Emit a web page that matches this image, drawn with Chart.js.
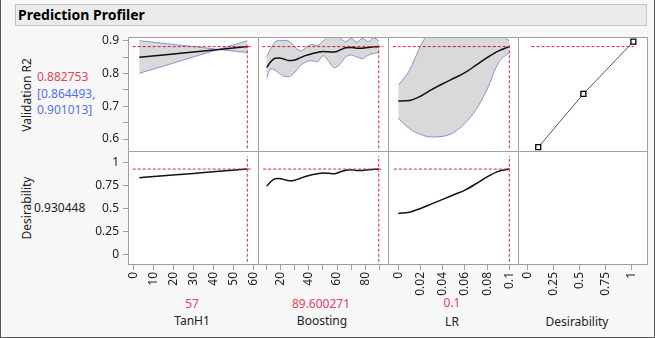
<!DOCTYPE html>
<html><head><meta charset="utf-8">
<script src="https://cdn.jsdelivr.net/npm/chart.js@4.4.0/dist/chart.umd.min.js"></script>
<style>
html,body{margin:0;padding:0;}
body{width:655px;height:338px;position:relative;background:#f7f7f7;overflow:hidden;font-family:'Noto Sans',sans-serif;font-size:12px;color:#222;}
#frame{position:absolute;left:0;top:0;width:653px;height:337px;border-left:1px solid #555;border-right:1px solid #555;border-bottom:1px solid #555;}
#title{position:absolute;left:15px;top:4px;width:628px;height:20px;background:#ebebeb;border:1px solid #c4c4c4;font-weight:bold;font-size:14px;line-height:20px;padding-left:2px;color:#000;}
.c{position:absolute;white-space:nowrap;line-height:14px;transform:translate(-50%,-50%);}
.l{position:absolute;white-space:nowrap;line-height:14px;transform:translate(0,-50%);}
.r{position:absolute;white-space:nowrap;line-height:14px;transform:translate(-50%,-50%) rotate(-90deg);}
.red{color:#e8405c;}
.blue{color:#5470f0;}
canvas{position:absolute;}
</style></head><body>
<div id="frame"></div>
<div id="title">Prediction Profiler</div>
<div class="r" style="left:27px;top:95px;">Validation R2</div>
<div class="l red" style="left:37px;top:77px;">0.882753</div>
<div class="l blue" style="left:37px;top:94px;">[0.864493,</div>
<div class="l blue" style="left:37px;top:110px;">0.901013]</div>
<div class="r" style="left:27px;top:208px;">Desirability</div>
<div class="l" style="left:34px;top:208px;">0.930448</div>
<div class="c red" style="left:192px;top:304px;">57</div>
<div class="c" style="left:192px;top:321px;">TanH1</div>
<div class="c red" style="left:321px;top:304px;">89.600271</div>
<div class="c" style="left:322px;top:321px;">Boosting</div>
<div class="c red" style="left:452px;top:303px;">0.1</div>
<div class="c" style="left:452px;top:322px;">LR</div>
<div class="c" style="left:577px;top:322px;">Desirability</div>
<script>
// ---------- data ----------
const predictedR2 = 0.882753;
const currentDesirability = 0.930448;

const curTanH1 = 57;
const curBoosting = 89.600271;
const curLR = 0.1;

const tanX      = [3, 15, 30, 43, 57];
const tanPred   = [0.850, 0.857, 0.866, 0.874, 0.8828];
const tanUpper  = [0.901, 0.893, 0.883, 0.874, 0.8645];
const tanLower  = [0.801, 0.823, 0.851, 0.875, 0.901];
const tanDes    = [0.836, 0.857, 0.883, 0.906, 0.9304];

const boostX     = [10, 13, 16, 19, 22, 26, 30, 34, 38, 42, 46, 50, 54, 58, 62, 66, 70, 74, 78, 82, 86, 89.6];
const boostPred  = [0.819, 0.837, 0.847, 0.848, 0.845, 0.840, 0.842, 0.849, 0.856, 0.861, 0.865, 0.868, 0.867, 0.866, 0.872, 0.879, 0.880, 0.878, 0.878, 0.880, 0.882, 0.8828];
const boostUpper = [0.852, 0.878, 0.897, 0.902, 0.902, 0.899, 0.882, 0.870, 0.880, 0.890, 0.886, 0.900, 0.915, 0.918, 0.910, 0.898, 0.908, 0.896, 0.908, 0.898, 0.910, 0.901];
const boostLower = [0.786, 0.815, 0.811, 0.800, 0.792, 0.791, 0.805, 0.825, 0.836, 0.840, 0.836, 0.855, 0.838, 0.818, 0.828, 0.850, 0.857, 0.851, 0.846, 0.856, 0.862, 0.8645];
const boostDes   = [0.742, 0.795, 0.825, 0.828, 0.818, 0.803, 0.809, 0.830, 0.853, 0.868, 0.880, 0.888, 0.884, 0.880, 0.898, 0.918, 0.922, 0.916, 0.916, 0.922, 0.928, 0.9304];

const lrX     = [0, 0.01, 0.02, 0.03, 0.04, 0.05, 0.06, 0.07, 0.08, 0.09, 0.1];
const lrPred  = [0.716, 0.718, 0.731, 0.751, 0.769, 0.786, 0.803, 0.826, 0.849, 0.869, 0.8828];
const lrUpper = [0.765, 0.810, 0.885, 0.940, 0.980, 1.000, 1.000, 0.990, 0.960, 0.925, 0.901];
const lrLower = [0.663, 0.632, 0.614, 0.606, 0.608, 0.620, 0.648, 0.690, 0.752, 0.832, 0.8645];
const lrDes   = [0.446, 0.460, 0.500, 0.550, 0.600, 0.650, 0.700, 0.770, 0.845, 0.905, 0.9304];

const desFnX = [0.105, 0.537, 1.016];
const desFnY = [0.575, 0.738, 0.898];

const r2Ticks = [0.6, 0.65, 0.7, 0.75, 0.8, 0.85, 0.9];
const r2Labelled = ['0.6', '0.7', '0.8', '0.9'];
const dTicks = [0, 0.25, 0.5, 0.75, 1];
const tanTicks = [0, 10, 20, 30, 40, 50, 60];
const boostTicks = [10, 20, 30, 40, 50, 60, 70, 80, 90];
const boostLabelled = [20, 40, 60, 80];
const lrTicks = [0, 0.02, 0.04, 0.06, 0.08, 0.1];
const desAxisTicks = [0, 0.25, 0.5, 0.75, 1];

// ---------- helpers ----------
const RED = '#e0223c', BLUE = '#8aa4ee', FILL = '#d9d9d9', GRID = '#a0a0a0';
Chart.defaults.font.family = "'Noto Sans', sans-serif";
Chart.defaults.font.size = 12;
Chart.defaults.color = '#222';

const framePlugin = {
  id: 'panelFrame',
  beforeDraw(chart, args, opts) {
    if (!opts.on) return;
    const a = chart.chartArea, ctx = chart.ctx;
    ctx.save(); ctx.fillStyle = '#fff';
    ctx.fillRect(a.left, a.top, a.right - a.left, a.bottom - a.top);
    ctx.restore();
  },
  afterDatasetsDraw(chart, args, opts) {
    // confidence band: area between the library-built upper and lower line elements,
    // multiplied under the already drawn curves
    if (opts.band == null) return;
    const up = chart.getDatasetMeta(opts.band[0]).dataset;
    const lo = chart.getDatasetMeta(opts.band[1]).dataset;
    if (!up || !lo || !up.segments.length || !lo.segments.length) return;
    const a = chart.chartArea, ctx = chart.ctx;
    ctx.save();
    ctx.beginPath(); ctx.rect(a.left + 1, a.top + 1, a.right - a.left - 1, a.bottom - a.top - 1); ctx.clip();
    ctx.globalCompositeOperation = 'multiply';
    ctx.beginPath();
    up.pathSegment(ctx, up.segments[0], {move: true});
    lo.pathSegment(ctx, lo.segments[0], {move: false, reverse: true});
    ctx.closePath();
    ctx.fillStyle = FILL;
    ctx.fill('nonzero');
    ctx.restore();
  },
  afterDraw(chart, args, opts) {
    if (!opts.on) return;
    const a = chart.chartArea, ctx = chart.ctx;
    ctx.save(); ctx.strokeStyle = GRID; ctx.lineWidth = 1;
    ctx.beginPath();
    ctx.moveTo(a.left + 0.5, a.bottom); ctx.lineTo(a.left + 0.5, a.top + 0.5); ctx.lineTo(a.right, a.top + 0.5);
    if (opts.right) { ctx.moveTo(a.right - 0.5, a.top); ctx.lineTo(a.right - 0.5, a.bottom); }
    if (opts.bottom) { ctx.moveTo(a.left, a.bottom - 0.5); ctx.lineTo(a.right, a.bottom - 0.5); }
    ctx.stroke(); ctx.restore();
  }
};

function pts(xs, ys) { return xs.map((x, i) => ({x: x, y: ys[i]})); }
function line(data, color, width) {
  return {data: data, borderColor: color, borderWidth: width, pointRadius: 0, fill: false,
    cubicInterpolationMode: 'monotone', clip: 0};
}
function dashed(data) {
  return {data: data, borderColor: RED, borderWidth: 1, borderDash: [3, 2], pointRadius: 0, fill: false, tension: 0, clip: 0};
}
function fmt(v) { return String(Math.round(v * 1000) / 1000); }
function noPad(s) { s.paddingTop = 0; s.paddingBottom = 0; s.paddingLeft = 0; s.paddingRight = 0; }

function makeChart(left, top, w, h, padTop, datasets, xs, ys, frame) {
  const c = document.createElement('canvas');
  c.width = w; c.height = h;
  c.style.left = left + 'px'; c.style.top = top + 'px';
  c.style.width = w + 'px'; c.style.height = h + 'px';
  document.body.appendChild(c);
  new Chart(c, {
    type: 'line',
    data: {datasets: datasets},
    options: {
      responsive: false, animation: false, events: [],
      layout: {padding: {top: padTop, left: 0, right: 0, bottom: 0}, autoPadding: false},
      plugins: {legend: {display: false}, tooltip: {enabled: false}, panelFrame: frame},
      scales: {x: xs, y: ys}
    },
    plugins: [framePlugin]
  });
}

function xScale(min, max, show, tickVals, labelFn) {
  return {
    type: 'linear', min: min, max: max, display: show, position: 'bottom',
    afterBuildTicks: s => { s.ticks = tickVals.map(v => ({value: v})); },
    afterFit: s => { s.height = show ? 73 : 0; noPad(s); },
    grid: {drawOnChartArea: false, drawTicks: true, tickLength: 5, color: GRID},
    border: {display: false},
    ticks: {autoSkip: false, minRotation: 90, maxRotation: 90, padding: 2, color: '#222', callback: labelFn}
  };
}
function yScale(min, max, show, tickVals, labelFn) {
  return {
    type: 'linear', min: min, max: max, display: show, position: 'left',
    afterBuildTicks: s => { s.ticks = tickVals.map(v => ({value: v})); },
    afterFit: s => { s.width = show ? 68 : 0; noPad(s); },
    grid: {drawOnChartArea: false, drawTicks: true, tickLength: 5, color: GRID},
    border: {display: false},
    ticks: {autoSkip: false, padding: 4, color: '#222', callback: labelFn}
  };
}

const R1MIN = 0.5633, R1MAX = 0.9122, R2MIN = -0.1168, R2MAX = 1.1277;
const r2Label = v => (r2Labelled.indexOf(fmt(v)) >= 0 ? fmt(v) : '');
const dLabel = v => fmt(v);

// shared y axes (left of the first column)
makeChart(60, 27, 69, 124, 10, [], xScale(0, 1, false, [], fmt), yScale(R1MIN, R1MAX, true, r2Ticks, r2Label), {on: false});
makeChart(60, 151, 69, 114, 0, [], xScale(0, 1, false, [], fmt), yScale(R2MIN, R2MAX, true, dTicks, dLabel), {on: false});

const factors = [
  {x: tanX, pred: tanPred, hi: tanUpper, lo: tanLower, des: tanDes, cur: curTanH1, min: -2.65, max: 62.35,
   ticks: tanTicks, lab: v => fmt(v), h1: [-0.3, 59.2], h2: [-0.3, 58.7]},
  {x: boostX, pred: boostPred, hi: boostUpper, lo: boostLower, des: boostDes, cur: curBoosting, min: 3.82, max: 96.18,
   ticks: boostTicks, lab: v => (boostLabelled.indexOf(v) >= 0 ? fmt(v) : ''), h1: [6.9, 93.0], h2: [7.5, 92.0]},
  {x: lrX, pred: lrPred, hi: lrUpper, lo: lrLower, des: lrDes, cur: curLR, min: -0.00928, max: 0.1078,
   ticks: lrTicks, lab: v => fmt(v), h1: [-0.005, 0.1005], h2: [-0.004, 0.1005]}
];

factors.forEach((f, col) => {
  const left = 128 + col * 130;
  // row 1: Validation R2
  makeChart(left, 37, 130, 114, 0, [
    dashed([{x: f.h1[0], y: predictedR2}, {x: f.h1[1], y: predictedR2}]),
    dashed([{x: f.cur, y: 0.5716}, {x: f.cur, y: 0.888}]),
    line(pts(f.x, f.pred), '#111', 1.5),
    line(pts(f.x, f.hi), BLUE, 1),
    line(pts(f.x, f.lo), BLUE, 1)
  ], xScale(f.min, f.max, false, f.ticks, f.lab), yScale(R1MIN, R1MAX, false, r2Ticks, r2Label), {on: true, band: [3, 4]});
  // row 2: Desirability
  makeChart(left, 151, 130, 187, 0, [
    dashed([{x: f.h2[0], y: currentDesirability}, {x: f.h2[1], y: currentDesirability}]),
    dashed([{x: f.cur, y: -0.081}, {x: f.cur, y: 1.073}]),
    line(pts(f.x, f.des), '#111', 1.5)
  ], xScale(f.min, f.max, true, f.ticks, f.lab), yScale(R2MIN, R2MAX, false, dTicks, dLabel), {on: true, bottom: true});
});

// desirability function column
makeChart(518, 37, 130, 114, 0, [
  dashed([{x: 0.04, y: predictedR2}, {x: 1.02, y: predictedR2}]),
  {data: pts(desFnX, desFnY), borderColor: '#555', borderWidth: 1, tension: 0, fill: false, clip: 0,
   pointStyle: 'rect', pointRadius: 3.5, pointBorderColor: '#000', pointBorderWidth: 1.3, pointBackgroundColor: '#fff'}
], xScale(-0.0891, 1.156, false, desAxisTicks, v => fmt(v)), yScale(R1MIN, R1MAX, false, r2Ticks, r2Label), {on: true, right: true});
makeChart(518, 151, 130, 187, 0, [],
  xScale(-0.0891, 1.156, true, desAxisTicks, v => fmt(v)), yScale(R2MIN, R2MAX, false, dTicks, dLabel), {on: true, right: true, bottom: true});
</script>
</body></html>
